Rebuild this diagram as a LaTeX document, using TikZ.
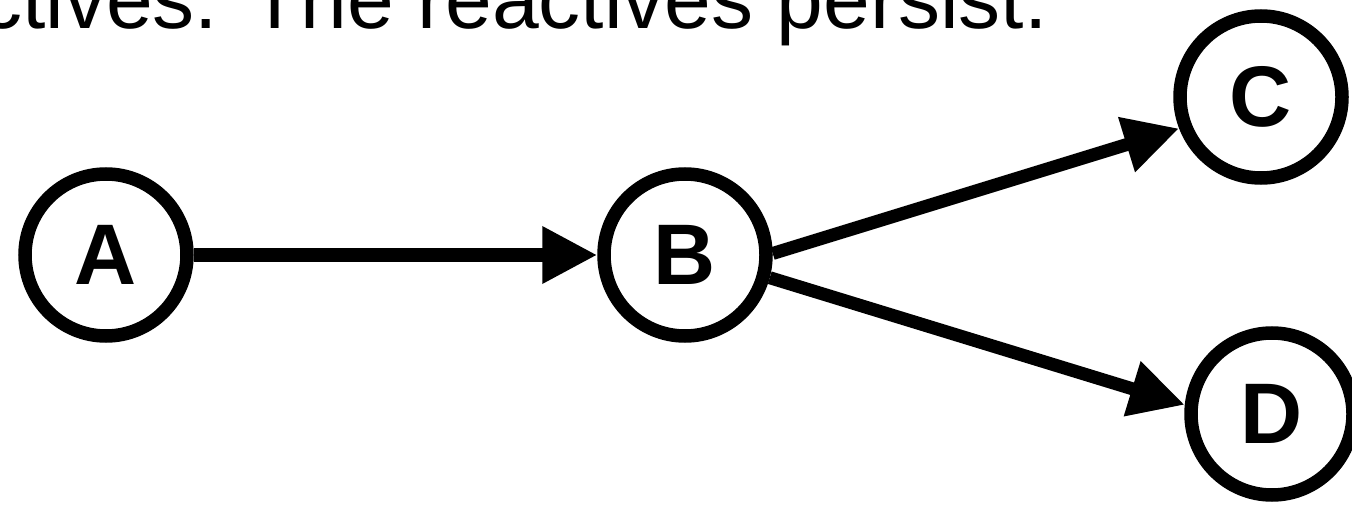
\documentclass[tikz,border=0pt]{standalone}
\usepackage{fontspec}
\setmainfont{Liberation Sans}
\usetikzlibrary{arrows.meta,shadows}
\begin{document}
\begin{tikzpicture}[x=1pt,y=-1pt,
  state/.style={circle, draw=black, line width=13.5pt, fill=white,
    minimum size=162pt, inner sep=0pt,
    font=\fontsize{86}{86}\selectfont\bfseries,
    drop shadow={shadow xshift=0pt, shadow yshift=-3pt, opacity=0.18}},
  conn/.style={line width=13pt, -{Triangle[length=55pt, width=54pt]}},
  headline/.style={anchor=base west, inner sep=0pt,
    font=\fontsize{84}{84}\selectfont}]
\useasboundingbox (0,0) rectangle (1352,505);
\node[headline] (title) at (-20,29) {ctives. The reactives persist.};
\node[state] (A) at (106,255) {A};
\node[state] (B) at (685,255) {B};
\node[state] (C) at (1261,97) {C};
\node[state] (D) at (1272,414) {D};
\draw[conn] (A) -- (B);
\draw[conn] (B.1) -- (C.201);
\draw[conn] (B.-15) -- (D.174);
\end{tikzpicture}
\end{document}
